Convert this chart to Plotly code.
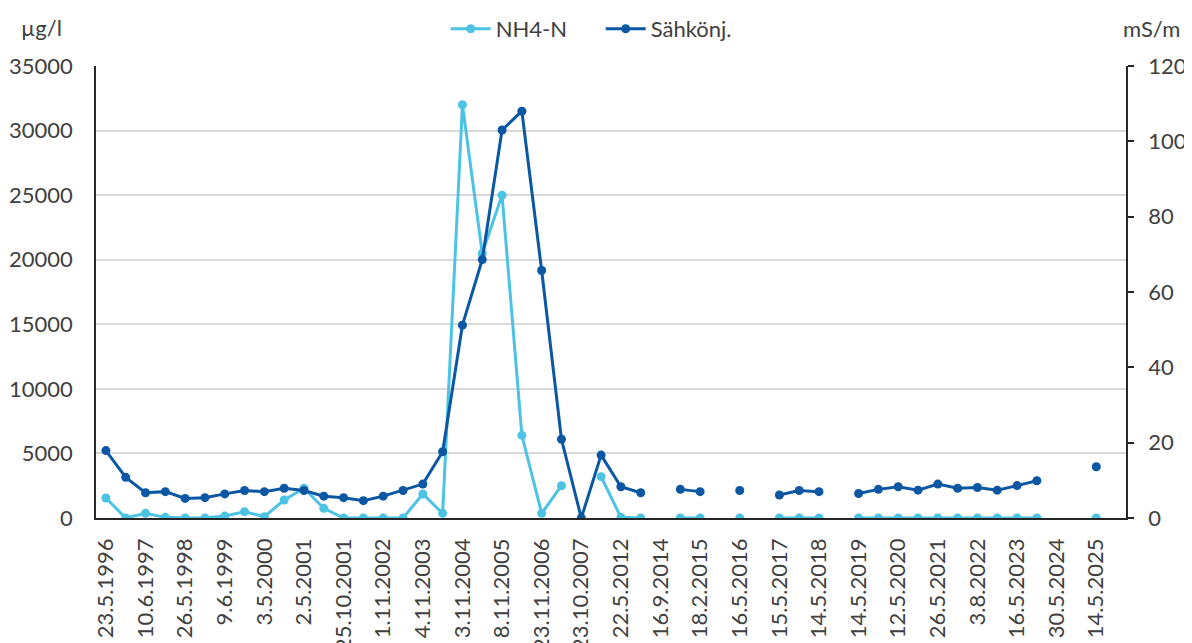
import plotly.graph_objects as go

tick_labels = ["23.5.1996", "10.6.1997", "26.5.1998", "9.6.1999", "3.5.2000", "2.5.2001",
               "25.10.2001", "1.11.2002", "4.11.2003", "3.11.2004", "8.11.2005", "23.11.2006",
               "23.10.2007", "22.5.2012", "16.9.2014", "18.2.2015", "16.5.2016", "15.5.2017",
               "14.5.2018", "14.5.2019", "12.5.2020", "26.5.2021", "3.8.2022", "16.5.2023",
               "30.5.2024", "14.5.2025"]

N = None
# NH4-N (µg/l), one value per sampling slot (labels sit on every other slot)
nh4 = [1550, 0, 360, 50, 0, 0, 150, 490, 100, 1390,
       2300, 750, 0, 0, 0, 0, 1860, 360, 32000, 20500,
       25000, 6400, 360, 2500, N, 3200, 50, 0, N, 0,
       0, N, 0, N, 0, 0, 0, N, 0, 0,
       0, 0, 0, 0, 0, 0, 0, 0, N, N,
       0, N]
# Sähkönjohtavuus (mS/m)
cond = [17.9, 10.8, 6.7, 7.0, 5.2, 5.4, 6.4, 7.3, 7.0, 7.9,
        7.3, 5.8, 5.4, 4.6, 5.8, 7.3, 9.0, 17.6, 51.2, 68.6,
        103.0, 108.0, 65.7, 20.9, 0, 16.7, 8.3, 6.7, N, 7.6,
        7.0, N, 7.3, N, 6.1, 7.3, 7.0, N, 6.5, 7.6,
        8.3, 7.4, 9.0, 7.9, 8.1, 7.4, 8.6, 9.9, N, N,
        13.6, N]

x = list(range(len(nh4)))
tick_pos = x[::2][:len(tick_labels)]

LIGHT = "#4DC3E4"
DARK = "#0B57A4"
FONT = "Lato"
TXT = "#404040"
FS = 22

fig = go.Figure()
fig.add_trace(go.Scatter(x=x, y=nh4, name="NH4-N", mode="lines+markers",
                         line=dict(color=LIGHT, width=3), marker=dict(color=LIGHT, size=9),
                         connectgaps=False))
fig.add_trace(go.Scatter(x=x, y=cond, name="Sähkönj.", mode="lines+markers", yaxis="y2",
                         line=dict(color=DARK, width=3), marker=dict(color=DARK, size=9),
                         connectgaps=False))

fig.update_layout(
    width=1192, height=643,
    margin=dict(l=88, r=74, t=58, b=133, autoexpand=False),
    paper_bgcolor="white", plot_bgcolor="white",
    font=dict(family=FONT, size=FS, color=TXT),
    showlegend=True,
    legend=dict(orientation="h", x=0.49, xanchor="center", y=1.0, yref="container",
                yanchor="top", font=dict(size=FS, color=TXT), itemwidth=40,
                entrywidth=100, entrywidthmode="pixels"),
    xaxis=dict(range=[-0.5, len(nh4) - 0.5], tickmode="array", tickvals=tick_pos,
               ticktext=tick_labels, tickangle=-90, showgrid=False, zeroline=False,
               showline=True, linecolor="#262626", linewidth=1.5, ticks="",
               ticklabelstandoff=10, automargin=False, tickfont=dict(size=FS, color=TXT)),
    yaxis=dict(range=[0, 35000], dtick=5000, tickformat="d", showgrid=True,
               gridcolor="#D9D9D9", gridwidth=1.5, zeroline=False, showline=True,
               linecolor="#262626", linewidth=1.5, ticks="", ticklabelstandoff=17,
               automargin=False, tickfont=dict(size=FS, color=TXT)),
    yaxis2=dict(range=[0, 120], dtick=20, overlaying="y", side="right", showgrid=False,
                zeroline=False, showline=True, linecolor="#262626", linewidth=1.5,
                ticks="outside", ticklen=6, tickcolor="#262626", tickwidth=1.5,
                ticklabelstandoff=10, automargin=False, tickfont=dict(size=FS, color=TXT)),
    annotations=[
        dict(text="µg/l", xref="paper", yref="paper", x=0, y=1, xshift=-55, yshift=23,
             showarrow=False, font=dict(size=FS, color=TXT), xanchor="center", yanchor="bottom"),
        dict(text="mS/m", xref="paper", yref="paper", x=1, y=1, xshift=56, yshift=22,
             showarrow=False, font=dict(size=FS, color=TXT), xanchor="right", yanchor="bottom"),
    ],
)

fig.write_html("out.html")
